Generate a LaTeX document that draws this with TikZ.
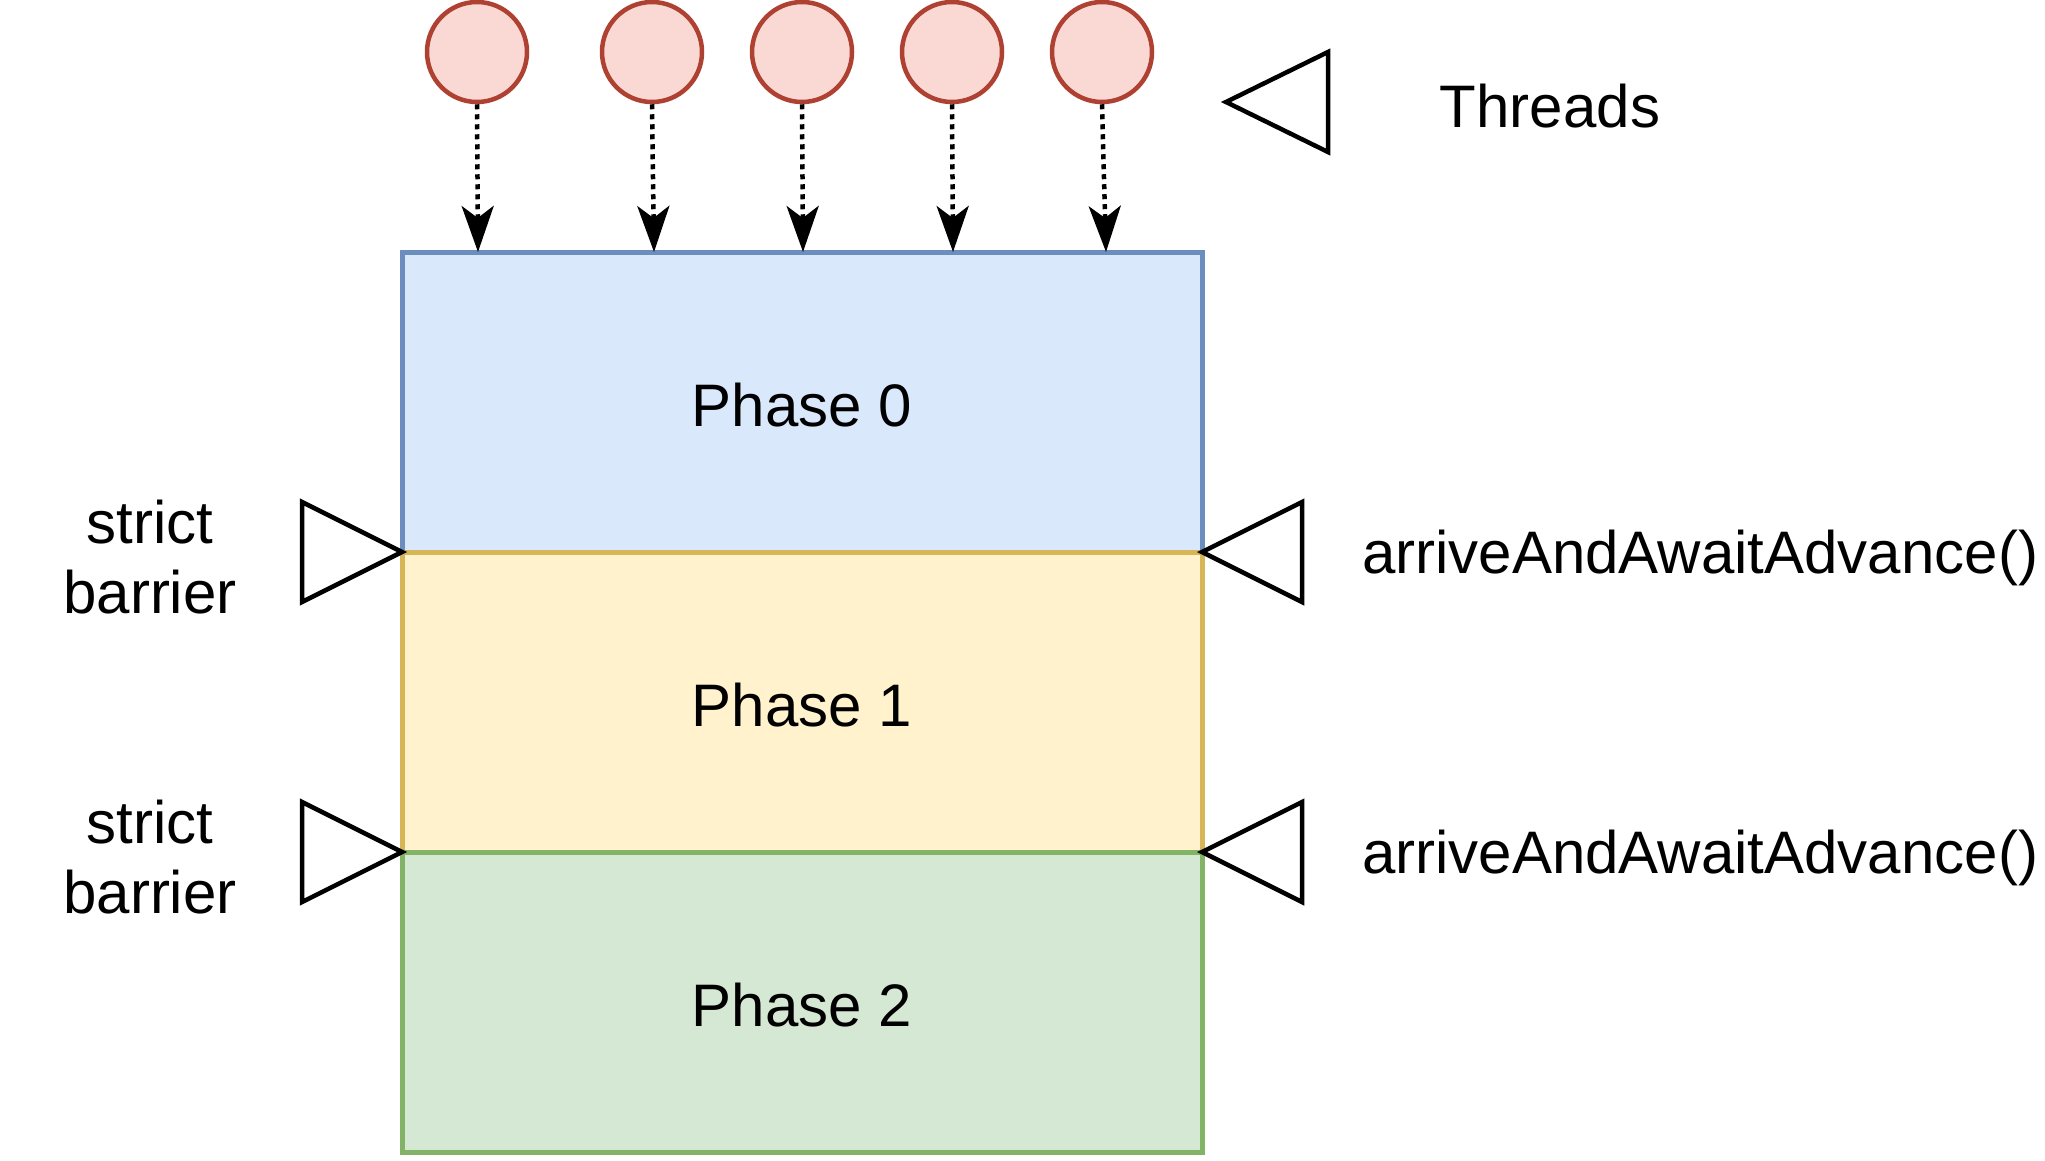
\documentclass[tikz,border=0pt]{standalone}
\usepackage{fontspec}
\setmainfont{Liberation Sans}
\usetikzlibrary{arrows.meta}
\definecolor{bluefill}{HTML}{DAE8FC}
\definecolor{bluestroke}{HTML}{6C8EBF}
\definecolor{yelfill}{HTML}{FFF2CC}
\definecolor{yelstroke}{HTML}{D6B656}
\definecolor{grnfill}{HTML}{D5E8D4}
\definecolor{grnstroke}{HTML}{82B366}
\definecolor{redfill}{HTML}{FAD9D5}
\definecolor{redstroke}{HTML}{AE4132}
\tikzset{
  lbl/.style={font=\fontsize{60}{70}\selectfont, inner sep=0pt, align=center},
  phasebox/.style={draw, line width=5pt, minimum width=800pt, minimum height=300pt, inner sep=0pt},
  phasetext/.style={font=\fontsize{60}{70}\selectfont, inner sep=0pt},
  thread/.style={circle, draw=redstroke, fill=redfill, line width=4.5pt, minimum size=100pt, inner sep=0pt},
  flow/.style={line width=4.5pt, dash pattern=on 5pt off 5pt, -{Stealth[length=46pt, width=32pt, inset=12pt]}},
  tri/.style={draw, line width=4.5pt, fill=white, line join=miter}
}
\begin{document}
\begin{tikzpicture}[x=1pt, y=-1pt]
\useasboundingbox (0,0) rectangle (2045,1160);
% phases
\node[phasebox, draw=bluestroke, fill=bluefill] (p0) at (802,402) {};
\node[phasebox, draw=yelstroke, fill=yelfill] (p1) at (802,702) {};
\node[phasebox, draw=grnstroke, fill=grnfill] (p2) at (802,1002) {};
\node[phasetext] (l0) at (802,405) {Phase 0};
\node[phasetext] (l1) at (802,705) {Phase 1};
\node[phasetext] (l2) at (802,1005) {Phase 2};
% threads
\node[thread] (t1) at (477,52) {};
\node[thread] (t2) at (652,52) {};
\node[thread] (t3) at (802,52) {};
\node[thread] (t4) at (952,52) {};
\node[thread] (t5) at (1102,52) {};
\coordinate (a1) at (478,252);
\coordinate (a2) at (654,252);
\coordinate (a3) at (803,252);
\coordinate (a4) at (953,252);
\coordinate (a5) at (1106,252);
\draw[flow] (t1.south) -- (a1);
\draw[flow] (t2.south) -- (a2);
\draw[flow] (t3.south) -- (a3);
\draw[flow] (t4.south) -- (a4);
\draw[flow] (t5.south) -- (a5);
% triangles
\draw[tri] (1226,102) -- (1328,52) -- (1328,152) -- cycle;
\draw[tri] (402,552) -- (302,502) -- (302,602) -- cycle;
\draw[tri] (402,852) -- (302,802) -- (302,902) -- cycle;
\draw[tri] (1202,552) -- (1302,502) -- (1302,602) -- cycle;
\draw[tri] (1202,852) -- (1302,802) -- (1302,902) -- cycle;
% labels
\node[lbl] (threads) at (1550,106) {Threads};
\node[lbl] (sb1) at (150,557) {strict\\barrier};
\node[lbl] (sb2) at (150,857) {strict\\barrier};
\node[lbl, anchor=west] (aw1) at (1362,558) {arriveAndAwaitAdvance()};
\node[lbl, anchor=west] (aw2) at (1362,858) {arriveAndAwaitAdvance()};
\end{tikzpicture}
\end{document}
